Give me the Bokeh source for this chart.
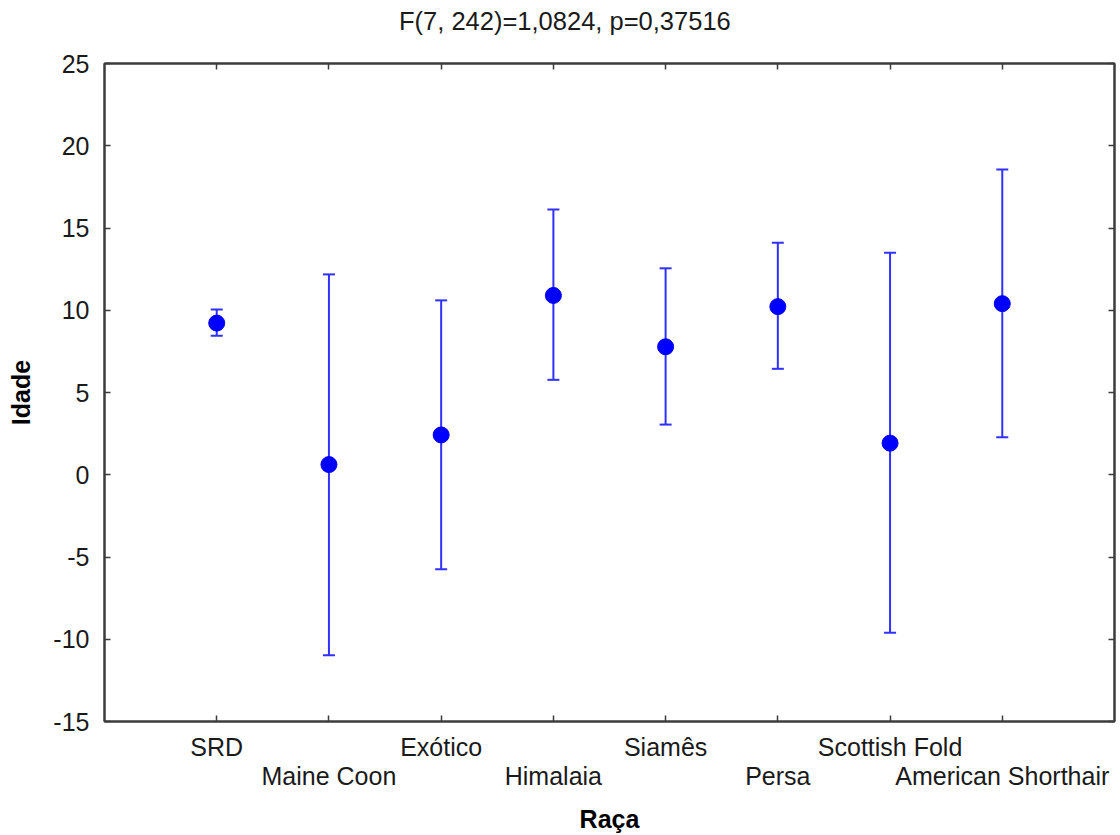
from bokeh.plotting import figure
from bokeh.models import ColumnDataSource, Whisker, TeeHead, LinearAxis, FixedTicker, Range1d, Div
from bokeh.layouts import column
from bokeh.embed import file_html
from bokeh.resources import INLINE

categories = ["SRD", "Maine Coon", "Exótico", "Himalaia", "Siamês", "Persa",
              "Scottish Fold", "American Shorthair"]
means = [9.22, 0.62, 2.42, 10.9, 7.78, 10.22, 1.92, 10.4]
lower = [8.45, -10.98, -5.75, 5.77, 3.05, 6.44, -9.6, 2.28]
upper = [10.05, 12.18, 10.6, 16.12, 12.55, 14.1, 13.5, 18.55]
y_ticks = [-15, -10, -5, 0, 5, 10, 15, 20, 25]
title_text = "F(7, 242)=1,0824, p=0,37516"
x_label = "Raça"
y_label = "Idade"

xs = [i + 1 for i in range(len(categories))]
src = ColumnDataSource(data=dict(x=xs, m=means, lo=lower, hi=upper))

FONT = "Liberation Sans"
AX = "#3c3c3c"
FS = "25px"

title_div = Div(
    text=('<div style="padding:4px 0 0 394px; font-family:\'Liberation Sans\'; '
          'font-size:25.5px; line-height:25px; color:#1a1a1a; white-space:nowrap;">'
          + title_text + '</div>'),
    width=1120, height=30)

p = figure(frame_width=1010, frame_height=658, output_backend="svg", toolbar_location=None,
           x_range=Range1d(0, len(categories) + 1), y_range=Range1d(-15, 25),
           min_border_left=104, min_border_right=6, min_border_top=23, min_border_bottom=110,
           x_axis_location=None, y_axis_location=None)
p.grid.visible = False
p.outline_line_color = AX
p.outline_line_width = 2
p.background_fill_color = "white"
p.border_fill_color = "white"

overrides = {}
for i, (x, c) in enumerate(zip(xs, categories)):
    overrides[x] = c if i % 2 == 0 else "\n" + c

def style_axis(ax):
    ax.axis_line_color = AX
    ax.axis_line_width = 2
    ax.major_tick_line_color = AX
    ax.major_tick_line_width = 1.5
    ax.major_tick_in = 6
    ax.major_tick_out = 0
    ax.minor_tick_line_color = None
    ax.major_label_text_font = FONT
    ax.major_label_text_font_size = FS
    ax.major_label_text_color = "#1a1a1a"
    ax.axis_label_text_font = FONT
    ax.axis_label_text_font_size = FS
    ax.axis_label_text_font_style = "bold"
    ax.axis_label_text_color = "black"

xb = LinearAxis(ticker=FixedTicker(ticks=xs), major_label_overrides=overrides, axis_label=x_label)
style_axis(xb)
xb.major_label_standoff = 11
xb.major_label_text_line_height = 1.06
xb.axis_label_standoff = 12
p.add_layout(xb, "below")

xt = LinearAxis(ticker=FixedTicker(ticks=xs), major_label_overrides={x: "" for x in xs})
style_axis(xt)
xt.major_label_standoff = 0
p.add_layout(xt, "above")

yl = LinearAxis(ticker=FixedTicker(ticks=y_ticks), axis_label=y_label,
                major_label_overrides={v: str(v) for v in y_ticks})
style_axis(yl)
yl.major_label_standoff = 15
yl.axis_label_standoff = 15
p.add_layout(yl, "left")

yr = LinearAxis(ticker=FixedTicker(ticks=y_ticks), major_label_overrides={v: "" for v in y_ticks})
style_axis(yr)
yr.major_label_standoff = 0
p.add_layout(yr, "right")

w = Whisker(base="x", upper="hi", lower="lo", source=src,
            line_color="#3030ff", line_width=2,
            upper_head=TeeHead(size=12, line_color="#3030ff", line_width=2),
            lower_head=TeeHead(size=12, line_color="#3030ff", line_width=2))
p.add_layout(w)

p.scatter("x", "m", source=src, size=16, fill_color="#0000ff", line_color="#0000ff")

layout = column(title_div, p, spacing=0)
open("out.html", "w").write(file_html(layout, INLINE))
